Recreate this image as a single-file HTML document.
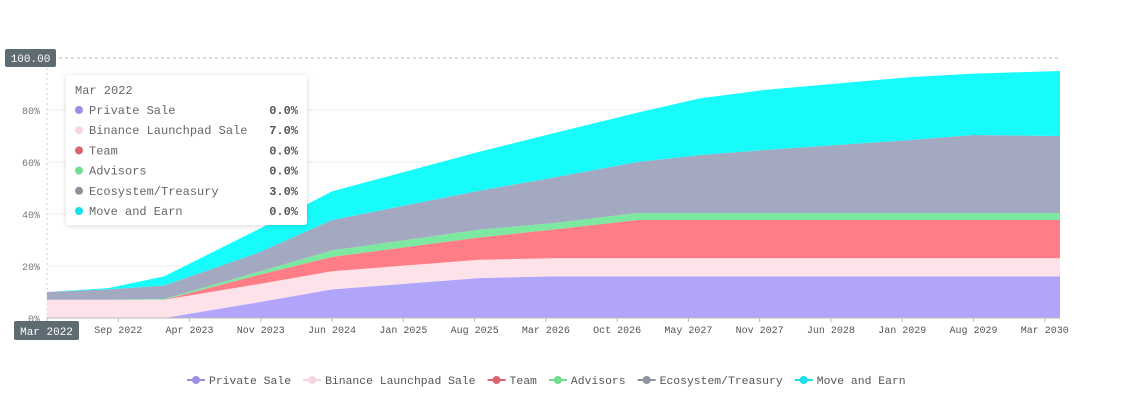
<!DOCTYPE html>
<html><head><meta charset="utf-8"><style>
body{margin:0;background:#fff;width:1129px;height:415px;overflow:hidden;font-family:"Liberation Mono","DejaVu Sans Mono",monospace;}
svg{position:absolute;left:0;top:0}
</style></head><body>
<svg id="chart" width="1129" height="415"></svg>
<script>
const months=[0,6,11.5,20.7,28,42.5,49.7,58,64.2,70.4,85,91,99.5];
const privateSale=[0,0,0,6,11,15.4,16,16,16,16,16,16,16];
const binance=[7,7,7,7,7,7,7,7,7,7,7,7,7];
const team=[0,0,0,3.5,5.5,8.6,11,14.7,14.7,14.7,14.7,14.7,14.7];
const advisors=[0,0,0.3,1.2,2.5,3,2.5,2.7,2.7,2.7,2.7,2.7,2.7];
const ecosystem=[3,4,5.2,7.3,11.7,15,17.5,19.6,22.3,24.2,28.1,30,29.6];
const moveEarn=[0,0.5,3.5,9,11,15,17,19,21.8,23.1,24.2,23.6,25];
const seriesNames=["Private Sale","Binance Launchpad Sale","Team","Advisors","Ecosystem/Treasury","Move and Earn"];
const seriesColors=["#b1a4fb","#fde2ea","#ff7d86","#7de9a0","#a2a9c0","#18fbfb"];
const dotColors=["#9d8fe0","#f5d5de","#d9646e","#70dd8f","#8e929c","#17e0e8"];
const tickMonths=[0,7,14,21,28,35,42,49,56,63,70,77,84,91,98];
const tickLabels=["Mar 2022","Sep 2022","Apr 2023","Nov 2023","Jun 2024","Jan 2025","Aug 2025","Mar 2026","Oct 2026","May 2027","Nov 2027","Jun 2028","Jan 2029","Aug 2029","Mar 2030"];
const yTicks=[0,20,40,60,80];
const tooltipTitle="Mar 2022";
const tooltipValues=["0.0%","7.0%","0.0%","0.0%","3.0%","0.0%"];

const svg=document.getElementById('chart');
const NS="http://www.w3.org/2000/svg";
const x0=47,x1=1060,y0=318,y100=58,mMax=99.5;
const X=m=>x0+m/mMax*(x1-x0);
const Y=v=>y0-(v/100)*(y0-y100);
function mk(t,a,p){const e=document.createElementNS(NS,t);for(const k in a)e.setAttribute(k,a[k]);(p||svg).appendChild(e);return e;}

yTicks.forEach(v=>{
  if(v>0){const g=mk('line',{x1:x0,x2:x1,y1:Y(v),y2:Y(v),stroke:'#ececec','stroke-width':1});
  
  }
  const t=mk('text',{x:40,y:Y(v)+4,'text-anchor':'end','font-size':10,fill:'#777'});
  t.textContent=v+'%';
  
  
});
const dl=mk('line',{x1:x0,x2:x1,y1:Y(100),y2:Y(100),stroke:'#bbb','stroke-dasharray':'3,3'});


mk('line',{x1:x0,x2:x0,y1:y100,y2:y0,stroke:'#ccc','stroke-dasharray':'2,3'});

const series=[privateSale,binance,team,advisors,ecosystem,moveEarn];
let base=months.map(()=>0);
series.forEach((s,i)=>{
  const top=base.map((b,j)=>b+s[j]);
  let d='M'+months.map((m,j)=>X(m)+','+Y(top[j])).join(' L');
  for(let j=months.length-1;j>=0;j--)d+=' L'+X(months[j])+','+Y(base[j]);
  const p=mk('path',{d:d+'Z',fill:seriesColors[i]});
  
  
  base=top;
});
mk('line',{x1:x0,x2:x1,y1:y0,y2:y0,stroke:'#bbb'});

tickMonths.forEach((m,i)=>{
  mk('line',{x1:X(m),x2:X(m),y1:y0,y2:y0+4,stroke:'#bbb'});
  if(i===0)return;
  const t=mk('text',{x:X(m),y:333,'text-anchor':'middle','font-size':10,fill:'#555'});
  t.textContent=tickLabels[i];
  
  
});
const b1=mk('rect',{x:5,y:49,width:51,height:18,rx:2,fill:'#5f6b73'});


const bt1=mk('text',{x:30.5,y:62,'text-anchor':'middle','font-size':11,fill:'#fff'});bt1.textContent='100.00';
const b2=mk('rect',{x:14,y:321,width:65,height:19,rx:2,fill:'#5f6b73'});


const bt2=mk('text',{x:46.5,y:335,'text-anchor':'middle','font-size':11,fill:'#fff'});bt2.textContent=tickLabels[0];

const defs=mk('defs',{});
const f=mk('filter',{id:'sh',x:'-10%',y:'-10%',width:'120%',height:'130%'},defs);
mk('feDropShadow',{dx:0,dy:1,stdDeviation:3,'flood-color':'#000','flood-opacity':0.15},f);
const tg=mk('g',{});


mk('rect',{x:66,y:75,width:241,height:150,rx:3,fill:'#fff',filter:'url(#sh)'},tg);
const tt=mk('text',{x:75,y:94,'font-size':12,fill:'#666'},tg);tt.textContent=tooltipTitle;
seriesNames.forEach((n,i)=>{
  const y=114+i*20.2;
  mk('circle',{cx:79,cy:y-4,r:4,fill:dotColors[i]},tg);
  const a=mk('text',{x:89,y:y,'font-size':12,fill:'#666'},tg);a.textContent=n;
  const v=mk('text',{x:298,y:y,'font-size':12,'font-weight':'bold','text-anchor':'end',fill:'#555'},tg);v.textContent=tooltipValues[i];
});

let lx=187;
seriesNames.forEach((n,i)=>{
  const g=mk('g',{});
  
  
  mk('line',{x1:lx,x2:lx+18,y1:380,y2:380,stroke:dotColors[i],'stroke-width':2},g);
  mk('circle',{cx:lx+9,cy:380,r:4,fill:dotColors[i]},g);
  const t=mk('text',{x:lx+22,y:384,'font-size':11.4,fill:'#555'},g);t.textContent=n;
  lx+=22+n.length*6.84+12;
});
</script>
</body></html>
